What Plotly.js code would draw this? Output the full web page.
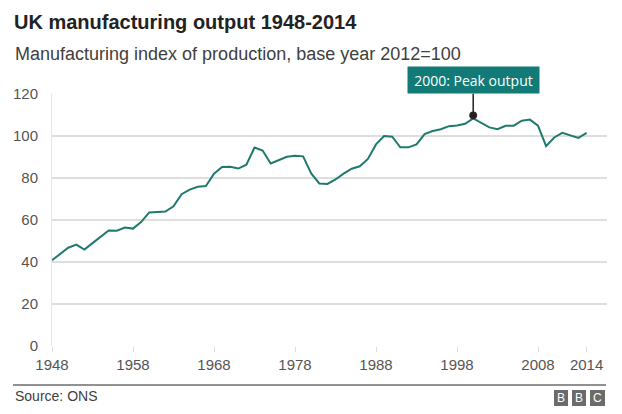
<!DOCTYPE html>
<html>
<head>
<meta charset="utf-8">
<script src="https://cdn.plot.ly/plotly-3.0.1.min.js"></script>
<style>html,body{margin:0;padding:0;background:#fff;}#chart{width:622px;height:414px;}</style>
</head>
<body>
<div id="chart"></div>
<script>
const years = [];
for (let y = 1948; y <= 2014; y++) years.push(y);
const output = [
  40.8, 43.6, 46.8, 48.3, 45.9, 49.0, 51.9, 55.0, 54.9, 56.4,
  55.9, 59.0, 63.6, 63.8, 64.0, 66.5, 72.3, 74.5, 75.8, 76.2,
  82.0, 85.2, 85.3, 84.5, 86.3, 94.5, 93.1, 86.9, 88.5, 90.1,
  90.6, 90.3, 82.2, 77.4, 77.2, 79.3, 82.1, 84.4, 85.6, 89.1,
  96.0, 100.0, 99.7, 94.6, 94.6, 96.0, 100.9, 102.4, 103.2, 104.7,
  105.0, 105.8, 108.4, 106.3, 104.1, 103.2, 104.9, 104.9, 107.3, 107.8,
  104.9, 95.2, 99.3, 101.5, 100.2, 99.1, 101.5
];
const tickYears = [1948, 1958, 1968, 1978, 1988, 1998, 2008, 2014];
const yTicks = [0, 20, 40, 60, 80, 100, 120];
const peakYear = 2000;
const peakLabel = "2000: Peak output";
const titleText = "UK manufacturing output 1948-2014";
const subtitleText = "Manufacturing index of production, base year 2012=100";
const sourceText = "Source: ONS";

const peakValue = output[years.indexOf(peakYear)];

const trace = {
  x: years, y: output, type: 'scatter', mode: 'lines',
  line: {color: '#1f7a6e', width: 2}, hoverinfo: 'skip'
};

const W = 622, H = 414, mL = 52, mR = 15, mT = 94, mB = 68;
const pw = W - mL - mR, ph = H - mT - mB;
const px = v => (v - mL) / pw;
const py = v => (H - mB - v) / ph;

const logoBoxes = [[554, 568, 'B'], [572, 586, 'B'], [590, 605, 'C']];
const shapes = [
  {type: 'line', xref: 'paper', yref: 'paper', x0: px(13), x1: px(606), y0: py(385), y1: py(385),
   line: {color: '#222', width: 1}}
];
const annotations = [
  {xref: 'paper', yref: 'paper', x: px(13), y: py(54), xanchor: 'left', yanchor: 'middle',
   text: subtitleText, showarrow: false, font: {family: 'Liberation Sans, Arial', size: 18, color: '#404040'}},
  {xref: 'paper', yref: 'paper', x: px(13), y: py(396), xanchor: 'left', yanchor: 'middle',
   text: sourceText, showarrow: false, font: {family: 'Liberation Sans, Arial', size: 14, color: '#404040'}},
  {x: peakYear, y: peakValue, xref: 'x', yref: 'y', text: peakLabel, showarrow: true,
   arrowhead: 6, arrowsize: 1.3, arrowwidth: 1.5, arrowcolor: '#222', ax: 0, ay: -35, yshift: 3,
   bgcolor: '#127b77', borderpad: 4, width: 123, height: 18,
   font: {family: 'Open Sans, Noto Sans', size: 14, color: '#fff'}}
];
logoBoxes.forEach(b => {
  shapes.push({type: 'rect', xref: 'paper', yref: 'paper', x0: px(b[0]), x1: px(b[1]), y0: py(406), y1: py(390),
    fillcolor: '#6b6b6b', line: {width: 0}});
  annotations.push({xref: 'paper', yref: 'paper', x: px((b[0] + b[1]) / 2), y: py(398), xanchor: 'center', yanchor: 'middle',
    text: b[2], showarrow: false, font: {family: 'Liberation Sans, Arial', size: 12, color: '#fff'}});
});

const layout = {
  width: W, height: H,
  margin: {l: mL, r: mR, t: mT, b: mB, pad: 0},
  paper_bgcolor: '#fff', plot_bgcolor: '#fff',
  showlegend: false,
  title: {text: '<b>' + titleText + '</b>', xref: 'container', yref: 'container', x: 14 / W, xanchor: 'left',
    y: 1 - 22 / H, yanchor: 'middle', font: {family: 'Liberation Sans, Arial', size: 20, color: '#222'}},
  xaxis: {range: [1948, 1948 + pw / 8.1], tickvals: tickYears, ticktext: tickYears.map(String),
    showgrid: false, zeroline: false, showline: false, ticks: 'outside', ticklen: 5, tickcolor: '#ddd', tickwidth: 1,
    tickfont: {family: 'Liberation Sans, Arial', size: 15, color: '#555'}, fixedrange: true},
  yaxis: {range: [0, 120], tickvals: yTicks, showgrid: true, gridcolor: '#dedede', gridwidth: 1.5,
    zeroline: false, showline: true, linecolor: '#e6e6e6', linewidth: 1, ticks: '', ticklabelstandoff: 10,
    tickfont: {family: 'Liberation Sans, Arial', size: 15, color: '#555'}, fixedrange: true},
  shapes: shapes, annotations: annotations
};

Plotly.newPlot('chart', [trace], layout, {displayModeBar: false, staticPlot: true});
</script>
</body>
</html>
